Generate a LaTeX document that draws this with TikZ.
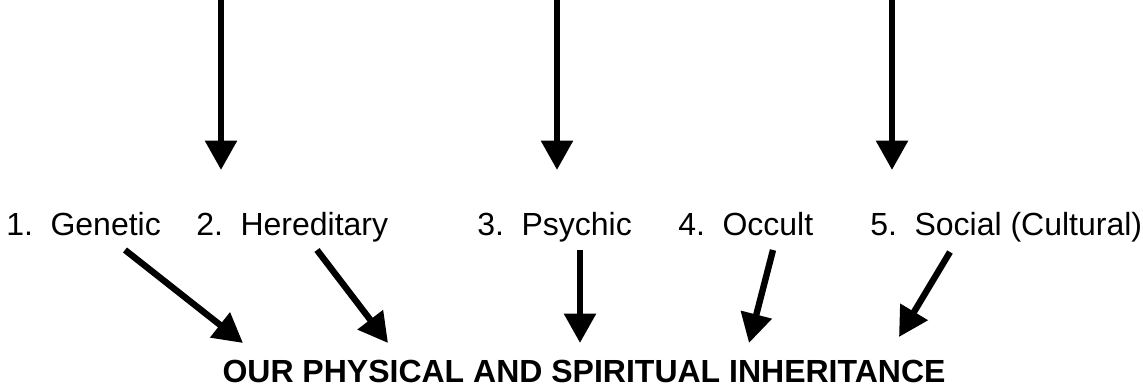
\documentclass[tikz,border=0pt]{standalone}
\usepackage{fontspec}
\setmainfont{Liberation Sans}
\usetikzlibrary{arrows.meta,positioning}

\begin{document}
\begin{tikzpicture}[
    x=0.75pt, y=-0.75pt,
    source/.style={font=\fontsize{24}{28}\selectfont, inner sep=0pt, anchor=base west},
    title/.style={font=\fontsize{24}{28}\selectfont\bfseries, inner sep=0pt, anchor=base},
    arrow/.style={-{Triangle[length=22pt,width=23pt]}, line width=4.8pt}
]
    \useasboundingbox (0,0) rectangle (1143,387);

    % the five kinds of inheritance
    \node[source] (genetic) at (6,235) {1.\hspace{0.55em}Genetic};
    \node[source] (hered) at (196,235) {2.\hspace{0.55em}Hereditary};
    \node[source] (psychic) at (477,235) {3.\hspace{0.55em}Psychic};
    \node[source] (occult) at (678,235) {4.\hspace{0.55em}Occult};
    \node[source] (social) at (870,235) {5.\hspace{0.55em}Social (Cultural)};
    \node[title] (inherit) at (584,382) {OUR PHYSICAL AND SPIRITUAL INHERITANCE};

    % arrows from above
    \coordinate (top1) at (221,0);
    \coordinate (top2) at (557,0);
    \coordinate (top3) at (892,0);
    \coordinate (drop1) at (221,170);
    \coordinate (drop2) at (557,170);
    \coordinate (drop3) at (892,170);
    \draw[arrow] (top1) -- (drop1);
    \draw[arrow] (top2) -- (drop2);
    \draw[arrow] (top3) -- (drop3);

    % arrows down to the inheritance
    \coordinate (out1) at (125,250);
    \coordinate (out2) at (317,250);
    \coordinate (out3) at (580,250);
    \coordinate (out4) at (773,250);
    \coordinate (out5) at (950,252);
    \coordinate (in1) at (243,343);
    \coordinate (in2) at (388,343);
    \coordinate (in3) at (580,343);
    \coordinate (in4) at (749,343);
    \coordinate (in5) at (899,337);
    \draw[arrow] (out1) -- (in1);
    \draw[arrow] (out2) -- (in2);
    \draw[arrow] (out3) -- (in3);
    \draw[arrow] (out4) -- (in4);
    \draw[arrow] (out5) -- (in5);
\end{tikzpicture}
\end{document}
